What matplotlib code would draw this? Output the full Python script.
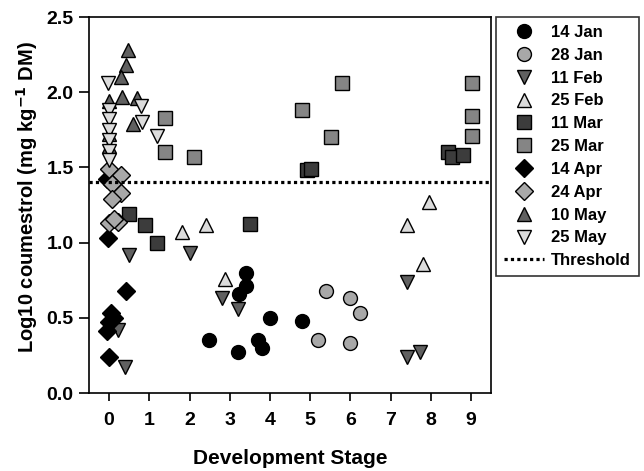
import matplotlib
matplotlib.use("Agg")
import matplotlib.pyplot as plt

plt.rcParams['font.family'] = ['Liberation Sans', 'DejaVu Sans']
plt.rcParams['font.weight'] = 'bold'

# development stage (x) and log10 coumestrol (y) per sampling date
jan14_x = [3.41, 3.41, 3.23, 4.01, 4.80, 2.49, 3.20, 3.70, 3.81]
jan14_y = [0.80, 0.71, 0.66, 0.50, 0.48, 0.35, 0.27, 0.35, 0.30]

jan28_x = [5.40, 6.00, 6.23, 5.20, 6.00]
jan28_y = [0.68, 0.63, 0.53, 0.35, 0.33]

feb11_x = [0.50, 2.00, 2.80, 3.20, 0.21, 0.40, 7.42, 7.42, 7.73]
feb11_y = [0.92, 0.93, 0.63, 0.56, 0.42, 0.17, 0.74, 0.24, 0.27]

feb25_x = [1.81, 2.41, 2.89, 7.96, 7.42, 7.81]
feb25_y = [1.07, 1.12, 0.76, 1.27, 1.12, 0.86]

mar11_x = [0.50, 0.90, 1.20, 3.51, 4.92, 5.01, 8.44, 8.52, 8.81]
mar11_y = [1.19, 1.12, 1.00, 1.125, 1.48, 1.49, 1.60, 1.57, 1.585]

mar25_x = [1.40, 1.40, 2.10, 5.80, 4.80, 5.51, 9.02, 9.02, 9.02]
mar25_y = [1.83, 1.60, 1.57, 2.06, 1.88, 1.70, 2.06, 1.845, 1.71]

apr14_x = [-0.06, -0.02, 0.42, 0.04, 0.12, 0.00, -0.04, 0.00]
apr14_y = [1.42, 1.03, 0.68, 0.53, 0.50, 0.47, 0.41, 0.24]

apr24_x = [0.00, 0.30, 0.08, 0.29, 0.07, 0.00, 0.21, 0.12]
apr24_y = [1.49, 1.45, 1.39, 1.33, 1.29, 1.13, 1.14, 1.16]

may10_x = [0.48, 0.42, 0.30, 0.00, 0.31, 0.70, 0.59, 0.00, 0.00]
may10_y = [2.28, 2.18, 2.10, 1.94, 1.97, 1.96, 1.79, 1.72, 1.64]

may25_x = [-0.03, 0.00, 0.00, 0.00, 0.00, 0.00, 0.00, 0.80, 0.83, 1.20]
may25_y = [2.06, 1.88, 1.82, 1.75, 1.68, 1.61, 1.55, 1.91, 1.80, 1.71]

threshold = 1.4

series = [
    ("14 Jan", jan14_x, jan14_y, 'o', '#000000', 10.0),
    ("28 Jan", jan28_x, jan28_y, 'o', '#a8a8a8', 10.0),
    ("11 Feb", feb11_x, feb11_y, 'v', '#606060', 10.0),
    ("25 Feb", feb25_x, feb25_y, '^', '#dcdcdc', 10.0),
    ("11 Mar", mar11_x, mar11_y, 's', '#3c3c3c', 9.5),
    ("25 Mar", mar25_x, mar25_y, 's', '#858585', 9.5),
    ("14 Apr", apr14_x, apr14_y, 'D', '#000000', 9.0),
    ("24 Apr", apr24_x, apr24_y, 'D', '#a8a8a8', 9.0),
    ("10 May", may10_x, may10_y, '^', '#606060', 10.0),
    ("25 May", may25_x, may25_y, 'v', '#dcdcdc', 10.0),
]

fig = plt.figure(figsize=(6.44, 4.71), dpi=100)
ax = fig.add_axes([0.1382, 0.1656, 0.6243, 0.7983])

for label, xs, ys, mk, col, ms in series:
    ax.plot(xs, ys, linestyle='none', marker=mk, markersize=ms,
            markerfacecolor=col, markeredgecolor='black', markeredgewidth=1.0,
            label=label)

ax.axhline(threshold, color='black', linestyle=(0, (1, 1)), linewidth=2.3,
           label='Threshold')

ax.set_xlim(-0.5, 9.5)
ax.set_ylim(0, 2.5)
ax.set_xticks(range(0, 10))
ax.set_yticks([0.0, 0.5, 1.0, 1.5, 2.0, 2.5])
ax.set_yticklabels(['0.0', '0.5', '1.0', '1.5', '2.0', '2.5'])
ax.tick_params(direction='out', width=1.2, labelsize=14)
ax.tick_params(axis='x', length=6, pad=8)
ax.tick_params(axis='y', length=7, pad=4)
for sp in ax.spines.values():
    sp.set_linewidth(1.2)

ax.set_xlabel("Development Stage", fontsize=15, fontweight='bold', labelpad=14)
ax.set_ylabel("Log10 coumestrol (mg kg$^{\\mathbf{-1}}$ DM)", fontsize=14.5,
              fontweight='bold')
ax.yaxis.set_label_coords(-0.123, 0.522)

leg = ax.legend(loc='upper left', bbox_to_anchor=(1.012, 1.0), fontsize=12,
                frameon=True, fancybox=False, edgecolor='black',
                labelspacing=0.47, handlelength=2.4, handletextpad=0.45,
                borderpad=0.47, borderaxespad=0)
leg.get_frame().set_linewidth(1.2)

fig.savefig("out.png", dpi=100)
